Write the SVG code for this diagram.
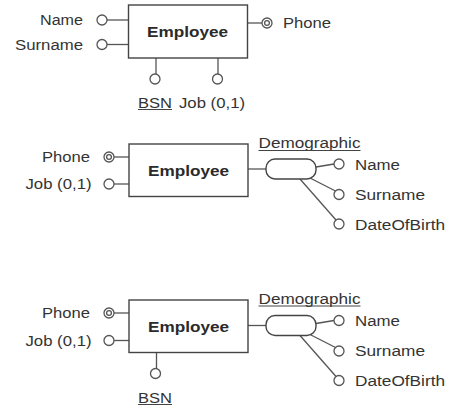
<svg xmlns="http://www.w3.org/2000/svg" width="450" height="408" viewBox="0 0 450 408">
<style>
.box{fill:#fff;stroke:#444;stroke-width:1.4}
.ln{stroke:#555;stroke-width:1.3;fill:none}
.att{fill:#fff;stroke:#555;stroke-width:1.3}
.t{font-family:"Liberation Sans",Arial,sans-serif;font-size:14px;fill:#333}
.b{font-weight:bold;fill:#2a2a2a}
.e{text-anchor:end}
.u{stroke:#444;stroke-width:1}
</style>
<rect width="450" height="408" fill="#fff"/>

<!-- Connectors -->
<g id="connectors" class="ln">
  <!-- diagram 1 -->
  <line x1="107" y1="20" x2="128.5" y2="20"/>
  <line x1="107" y1="44.5" x2="128.5" y2="44.5"/>
  <line x1="247.5" y1="23" x2="262" y2="23"/>
  <line x1="156" y1="58" x2="156" y2="74"/>
  <line x1="218" y1="58" x2="218" y2="74"/>
  <!-- diagram 2 -->
  <line x1="114" y1="157" x2="129" y2="157"/>
  <line x1="114" y1="184" x2="129" y2="184"/>
  <line x1="248" y1="169" x2="266" y2="169"/>
  <line x1="316" y1="167" x2="334" y2="164"/>
  <line x1="310" y1="178" x2="335.5" y2="191"/>
  <line x1="300" y1="179" x2="336" y2="220"/>
  <!-- diagram 3 -->
  <line x1="114" y1="313" x2="129" y2="313"/>
  <line x1="114" y1="340.5" x2="129" y2="340.5"/>
  <line x1="248" y1="325.5" x2="266" y2="325.5"/>
  <line x1="316" y1="323.5" x2="334" y2="320.5"/>
  <line x1="310" y1="334.5" x2="335.5" y2="347.5"/>
  <line x1="300" y1="335.5" x2="336" y2="376.5"/>
  <line x1="156.5" y1="352.5" x2="156.5" y2="368.5"/>
</g>

<!-- Diagram 1 -->
<g id="employee1">
  <rect class="box" x="128.5" y="5" width="119" height="53"/>
  <text class="t b" x="187.5" y="36.5" text-anchor="middle" textLength="81" lengthAdjust="spacingAndGlyphs">Employee</text>
</g>
<g id="d1-name">
  <circle class="att" cx="102" cy="20" r="5"/>
  <text class="t e" x="83" y="25" textLength="43" lengthAdjust="spacingAndGlyphs">Name</text>
</g>
<g id="d1-surname">
  <circle class="att" cx="102" cy="44.5" r="5"/>
  <text class="t e" x="83" y="49.5" textLength="68" lengthAdjust="spacingAndGlyphs">Surname</text>
</g>
<g id="d1-phone">
  <circle class="att" cx="267" cy="23" r="5"/>
  <circle class="att" cx="267" cy="23" r="2.4"/>
  <text class="t" x="283" y="28" textLength="48" lengthAdjust="spacingAndGlyphs">Phone</text>
</g>
<g id="d1-bsn">
  <circle class="att" cx="155" cy="79" r="5"/>
  <text class="t" x="138" y="107.5" textLength="34" lengthAdjust="spacingAndGlyphs">BSN</text>
  <line class="u" x1="138" y1="109.5" x2="172" y2="109.5"/>
</g>
<g id="d1-job">
  <circle class="att" cx="217.5" cy="79" r="5"/>
  <text class="t" x="179" y="107.5" textLength="66" lengthAdjust="spacingAndGlyphs">Job (0,1)</text>
</g>

<!-- Diagram 2 -->
<g id="employee2">
  <rect class="box" x="129" y="144" width="119" height="52.5"/>
  <text class="t b" x="188.5" y="175.5" text-anchor="middle" textLength="81" lengthAdjust="spacingAndGlyphs">Employee</text>
</g>
<g id="d2-phone">
  <circle class="att" cx="109" cy="157" r="5"/>
  <circle class="att" cx="109" cy="157" r="2.4"/>
  <text class="t e" x="90" y="161.5" textLength="48" lengthAdjust="spacingAndGlyphs">Phone</text>
</g>
<g id="d2-job">
  <circle class="att" cx="109" cy="184" r="5"/>
  <text class="t e" x="91.5" y="189" textLength="66" lengthAdjust="spacingAndGlyphs">Job (0,1)</text>
</g>
<g id="d2-demographic">
  <rect class="box" x="266" y="159" width="50" height="20" rx="9"/>
  <text class="t" x="258.5" y="148" textLength="102" lengthAdjust="spacingAndGlyphs">Demographic</text>
  <line class="u" x1="258.5" y1="150.5" x2="360.5" y2="150.5"/>
</g>
<g id="d2-name">
  <circle class="att" cx="339" cy="164" r="5"/>
  <text class="t" x="355" y="169.5" textLength="45" lengthAdjust="spacingAndGlyphs">Name</text>
</g>
<g id="d2-surname">
  <circle class="att" cx="339" cy="194.5" r="5"/>
  <text class="t" x="355" y="199.5" textLength="70" lengthAdjust="spacingAndGlyphs">Surname</text>
</g>
<g id="d2-dob">
  <circle class="att" cx="339" cy="224" r="5"/>
  <text class="t" x="355" y="229.5" textLength="90" lengthAdjust="spacingAndGlyphs">DateOfBirth</text>
</g>

<!-- Diagram 3 -->
<g id="employee3">
  <rect class="box" x="129" y="300" width="119" height="52.5"/>
  <text class="t b" x="188.5" y="331.5" text-anchor="middle" textLength="81" lengthAdjust="spacingAndGlyphs">Employee</text>
</g>
<g id="d3-phone">
  <circle class="att" cx="109" cy="313" r="5"/>
  <circle class="att" cx="109" cy="313" r="2.4"/>
  <text class="t e" x="90" y="317.5" textLength="48" lengthAdjust="spacingAndGlyphs">Phone</text>
</g>
<g id="d3-job">
  <circle class="att" cx="109" cy="340.5" r="5"/>
  <text class="t e" x="91.5" y="345.5" textLength="66" lengthAdjust="spacingAndGlyphs">Job (0,1)</text>
</g>
<g id="d3-demographic">
  <rect class="box" x="266" y="315.5" width="50" height="20" rx="9"/>
  <text class="t" x="258.5" y="303.5" textLength="102" lengthAdjust="spacingAndGlyphs">Demographic</text>
  <line class="u" x1="258.5" y1="306" x2="360.5" y2="306"/>
</g>
<g id="d3-name">
  <circle class="att" cx="339" cy="320.5" r="5"/>
  <text class="t" x="355" y="326" textLength="45" lengthAdjust="spacingAndGlyphs">Name</text>
</g>
<g id="d3-surname">
  <circle class="att" cx="339" cy="351" r="5"/>
  <text class="t" x="355" y="356" textLength="70" lengthAdjust="spacingAndGlyphs">Surname</text>
</g>
<g id="d3-dob">
  <circle class="att" cx="339" cy="380.5" r="5"/>
  <text class="t" x="355" y="386" textLength="90" lengthAdjust="spacingAndGlyphs">DateOfBirth</text>
</g>
<g id="d3-bsn">
  <circle class="att" cx="155.5" cy="373.5" r="5"/>
  <text class="t" x="138" y="402.5" textLength="34" lengthAdjust="spacingAndGlyphs">BSN</text>
  <line class="u" x1="138" y1="404.5" x2="172" y2="404.5"/>
</g>
</svg>
